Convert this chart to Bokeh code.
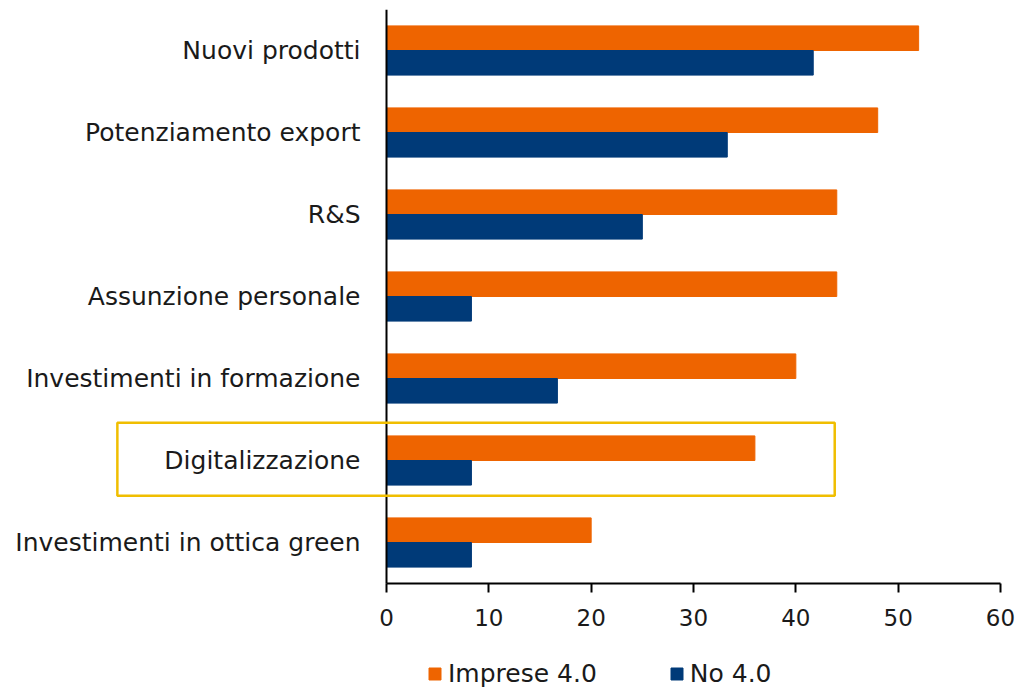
from bokeh.plotting import figure
from bokeh.models import (ColumnDataSource, Range1d, Legend, LegendItem,
                          BoxAnnotation, FixedTicker, LinearAxis)
from bokeh.core.properties import value
from bokeh.transform import dodge
from bokeh.embed import file_html
from bokeh.resources import INLINE

categories = ["Nuovi prodotti", "Potenziamento export", "R&S", "Assunzione personale",
              "Investimenti in formazione", "Digitalizzazione", "Investimenti in ottica green"]
imprese_40 = [52, 48, 44, 44, 40, 36, 20]
no_40 = [41.7, 33.3, 25, 8.3, 16.7, 8.3, 8.3]
x_ticks = [0, 10, 20, 30, 40, 50, 60]
series_names = ["Imprese 4.0", "No 4.0"]
highlight = "Digitalizzazione"

ORANGE = "#EE6400"
BLUE = "#003A78"
FONT = "DejaVu Sans"
TXT = "#1a1a1a"

n = len(categories)
# band centres: first category at the top
ypos = [n - 0.5 - i for i in range(n)]
source = ColumnDataSource(dict(cat=categories, y=ypos, imp=imprese_40, no=no_40))

# layout in pixels
LABEL_PX = 386.0   # room for category labels left of the value axis
DATA_PX = 614.0    # width of the 0..60 value area
RIGHT_PX = 18.0    # room right of 60 for the last tick label
BAND_PX = 82.0     # height of one category band
BOTTOM_PX = 105.0  # room below the bars for the value axis and legend
x_max = x_ticks[-1]
px_per_unit = DATA_PX / x_max
x_min = -LABEL_PX / px_per_unit
x_end = x_max + RIGHT_PX / px_per_unit
y_min = -BOTTOM_PX / BAND_PX

p = figure(frame_width=int(LABEL_PX + DATA_PX + RIGHT_PX),
           frame_height=int(n * BAND_PX + BOTTOM_PX),
           output_backend="svg", toolbar_location=None,
           x_range=Range1d(x_min, x_end), y_range=Range1d(y_min, n),
           x_axis_type=None, y_axis_type=None,
           min_border_left=0, min_border_right=0, min_border_top=9, min_border_bottom=0)

r1 = p.hbar(y=dodge("y", 0.15), right="imp", height=0.3, left=0,
            source=source, color=ORANGE)
r2 = p.hbar(y=dodge("y", -0.15), right="no", height=0.3, left=0,
            source=source, color=BLUE)

# category labels, right-aligned against the value axis
p.text(x=0, y="y", text="cat", source=source, x_offset=-26,
       text_align="right", text_baseline="middle",
       text_font=value(FONT), text_font_size=value("25px"), text_color=TXT)

p.outline_line_color = None
p.grid.visible = False

# vertical axis line at zero, from the bottom band to the top
p.segment(x0=[0], y0=[0], x1=[0], y1=[n], line_color="black", line_width=2)

# value axis fixed at the bottom of the bars
xaxis = LinearAxis(fixed_location=0, bounds=(0, x_max), ticker=FixedTicker(ticks=x_ticks))
xaxis.major_tick_out = 9
xaxis.major_tick_in = 0
xaxis.minor_tick_line_color = None
xaxis.axis_line_width = 2
xaxis.major_tick_line_width = 2
xaxis.axis_line_color = "black"
xaxis.major_tick_line_color = "black"
xaxis.major_label_text_font = FONT
xaxis.major_label_text_font_size = "23px"
xaxis.major_label_text_color = TXT
xaxis.major_label_standoff = 16
p.add_layout(xaxis, "below")

# highlight box around one category
hy = ypos[categories.index(highlight)]
box = BoxAnnotation(left=-26.3, right=43.8, bottom=hy - 0.43, top=hy + 0.46,
                    fill_alpha=0, line_color="#F0BE00", line_alpha=1, line_width=2.5,
                    editable=False)
p.add_layout(box)

legend = Legend(items=[LegendItem(label=series_names[0], renderers=[r1]),
                       LegendItem(label=series_names[1], renderers=[r2])],
                orientation="horizontal", location=(427, 0),
                label_text_font=FONT, label_text_font_size="25px",
                label_text_color=TXT,
                glyph_width=15, glyph_height=15, label_standoff=6, spacing=72,
                border_line_color=None, background_fill_alpha=0,
                margin=0, padding=0)
p.add_layout(legend, "center")

open("out.html", "w").write(file_html(p, INLINE))
